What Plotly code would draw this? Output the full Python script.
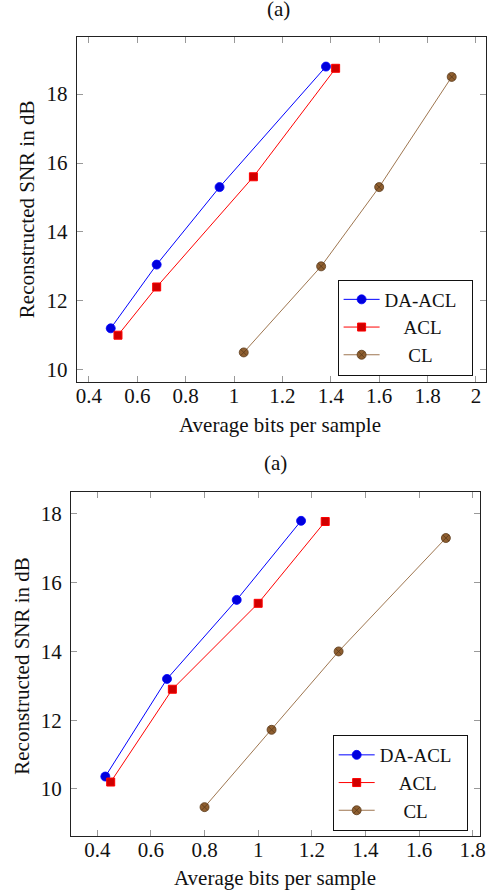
import plotly.graph_objects as go

# ---- data: panel 1 ----
p1_da_acl_x = [0.49, 0.68, 0.94, 1.38]
p1_da_acl_y = [11.2, 13.05, 15.3, 18.8]
p1_acl_x = [0.52, 0.68, 1.08, 1.42]
p1_acl_y = [11.0, 12.4, 15.6, 18.75]
p1_cl_x = [1.04, 1.36, 1.60, 1.90]
p1_cl_y = [10.5, 13.0, 15.3, 18.5]

# ---- data: panel 2 ----
p2_da_acl_x = [0.43, 0.66, 0.92, 1.16]
p2_da_acl_y = [10.36, 13.2, 15.5, 17.8]
p2_acl_x = [0.45, 0.68, 1.00, 1.25]
p2_acl_y = [10.2, 12.9, 15.4, 17.78]
p2_cl_x = [0.80, 1.05, 1.30, 1.70]
p2_cl_y = [9.47, 11.72, 14.0, 17.3]

series_names = ["DA-ACL", "ACL", "CL"]
caption = "(a)"
x_title = "Average bits per sample"
y_title = "Reconstructed SNR in dB"

FONT = "Liberation Serif, Times New Roman, serif"
FS = 21
LFS = 19
W, H = 500, 894

BLUE = "#0000ff"
BLUE_FILL = "#0000dd"
RED = "#ff0000"
RED_FILL = "#d00000"
BROWN = "#9e7650"
BROWN_FILL = "#8f5f30"

NB = "\u00a0"
legend_labels = [series_names[0] + NB * 2,
                 NB * 4 + series_names[1] + NB * 2,
                 NB * 5 + series_names[2] + NB * 2]

def py(px):
    return 1 - px / H

fig = go.Figure()

def add_panel(xa, ya, leg, dx, dy, ax, ay, cx, cy):
    styles = [
        (dx, dy, BLUE, BLUE_FILL, BLUE, "circle", 9),
        (ax, ay, RED, RED_FILL, RED, "square", 8),
        (cx, cy, BROWN, BROWN_FILL, "#5a3a1a", "circle-x", 9),
    ]
    for (x, y, lc, fc, mlc, sym, sz), name in zip(styles, legend_labels):
        fig.add_trace(go.Scatter(
            x=x, y=y, mode="lines+markers", name=name,
            xaxis=xa, yaxis=ya, legend=leg,
            line=dict(color=lc, width=1),
            marker=dict(symbol=sym, size=sz, color=fc,
                        line=dict(color=mlc, width=0.8 if sym != "square" else 1)),
            showlegend=True,
        ))

add_panel("x", "y", "legend", p1_da_acl_x, p1_da_acl_y, p1_acl_x, p1_acl_y, p1_cl_x, p1_cl_y)
add_panel("x2", "y2", "legend2", p2_da_acl_x, p2_da_acl_y, p2_acl_x, p2_acl_y, p2_cl_x, p2_cl_y)

axis_common = dict(
    showgrid=False, zeroline=False,
    showline=True, linecolor="#222222", linewidth=1, mirror="ticks",
    ticks="inside", ticklen=6, tickcolor="#999999", tickwidth=1,
    tickfont=dict(family=FONT, size=FS, color="#111111"),
)

legend_common = dict(xanchor="right", yanchor="top",
                     bordercolor="#111111", borderwidth=1, bgcolor="white",
                     font=dict(family=FONT, size=LFS, color="#111111"),
                     tracegroupgap=0, itemwidth=36)

fig.update_layout(
    width=W, height=H,
    margin=dict(l=0, r=0, t=0, b=0),
    paper_bgcolor="white", plot_bgcolor="white",
    font=dict(family=FONT, size=FS, color="#111111"),
    xaxis=dict(domain=[76.7 / W, 491.7 / W], range=[0.349, 2.041], dtick=0.2, tick0=0.4,
               anchor="y", ticklabelstandoff=-5, **axis_common),
    yaxis=dict(domain=[py(381.7), py(37.3)], range=[9.65, 19.65], dtick=2, tick0=10,
               anchor="x", ticklabelstandoff=4, **axis_common),
    xaxis2=dict(domain=[71 / W, 486 / W], range=[0.302, 1.828], dtick=0.2, tick0=0.4,
                anchor="y2", ticklabelstandoff=-5, **axis_common),
    yaxis2=dict(domain=[py(836), py(492.3)], range=[8.63, 18.63], dtick=2, tick0=10,
                anchor="x2", ticklabelstandoff=4, **axis_common),
    legend=dict(x=478.3 / W, y=py(279.5), **legend_common),
    legend2=dict(x=473.3 / W, y=py(735), **legend_common),
)

annots = [
    dict(text=caption, x=281.7 / W, y=py(8.5)),
    dict(text=caption, x=278 / W, y=py(462.5)),
    dict(text=x_title, x=283 / W, y=py(425)),
    dict(text=x_title, x=278 / W, y=py(878)),
    dict(text=y_title, x=26 / W, y=py(209.5), textangle=-90),
    dict(text=y_title, x=21 / W, y=py(666), textangle=-90),
]
for a in annots:
    fig.add_annotation(xref="paper", yref="paper", showarrow=False,
                       xanchor="center", yanchor="middle",
                       font=dict(family=FONT, size=FS, color="#111111"), **a)

fig.write_html("out.html", config={"displayModeBar": False},
               post_script="document.body.style.margin='0';document.body.style.overflow='hidden';")
